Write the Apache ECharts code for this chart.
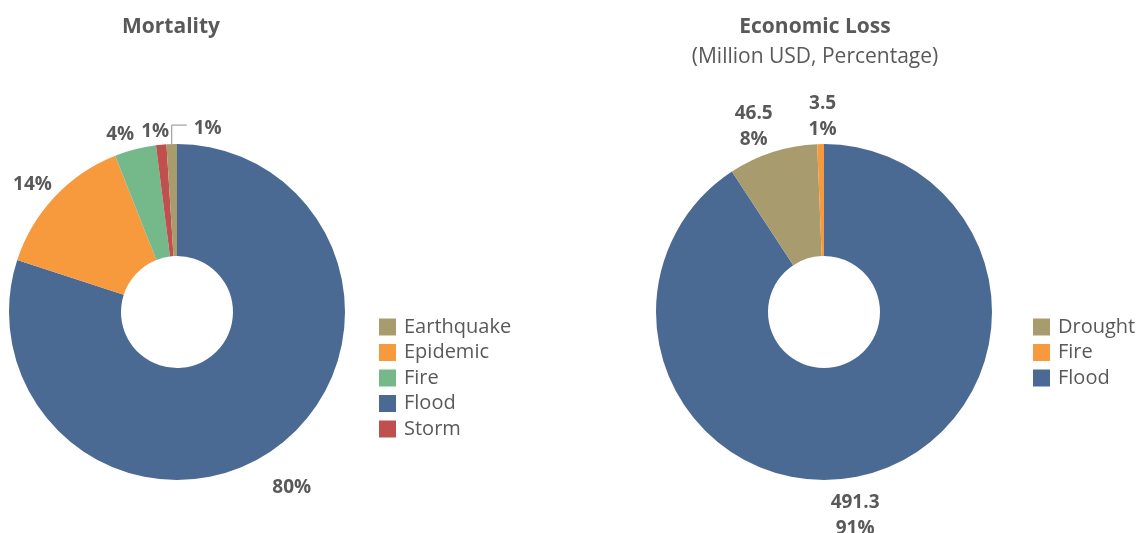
<!DOCTYPE html>
<html><head><meta charset="utf-8">
<script src="https://cdn.jsdelivr.net/npm/echarts@6/dist/echarts.min.js"></script>
<style>html,body{margin:0;padding:0;background:#fff}#c{width:1137px;height:533px}</style>
</head><body><div id="c"></div>
<script>
// Mortality (percent of deaths), clockwise from 12 o'clock
const mortCats = ['Flood', 'Epidemic', 'Fire', 'Storm', 'Earthquake'];
const mortVals = [80, 14, 4, 1, 1];
const mortColors = ['#4b6a93', '#f79a3e', '#75b98b', '#c0504d', '#a89b6e'];
const mortLegend = ['Earthquake', 'Epidemic', 'Fire', 'Flood', 'Storm'];

// Economic loss (million USD), clockwise from 12 o'clock
const ecoCats = ['Flood', 'Drought', 'Fire'];
const ecoVals = [491.3, 46.5, 3.5];
const ecoPct = ['91%', '8%', '1%'];
const ecoColors = ['#4b6a93', '#a89b6e', '#f79a3e'];
const ecoLegend = ['Drought', 'Fire', 'Flood'];

const FONT = '"Open Sans", "Noto Sans", sans-serif';
const TXT = '#595959';

// label offsets from the slice's outer-edge midpoint (placement only)
const mortLabelOff = [[16, 40], [-22, -12], [-15, -15], [-6, -13], [34, -15]];
const ecoLabelOff = [[-17, 43], [-19, -25], [2, -27]];

const mortData = mortCats.map((n, i) => ({
  name: n, value: mortVals[i], itemStyle: { color: mortColors[i] }
}));
const ecoData = ecoCats.map((n, i) => ({
  name: n, value: ecoVals[i], itemStyle: { color: ecoColors[i] }, pct: ecoPct[i]
}));

function legendData(names, cats, colors) {
  return names.map(n => ({ name: n, itemStyle: { color: colors[cats.indexOf(n)] } }));
}

function makeLayout(offs, leaderIdx) {
  return function (params) {
    const pts = params.labelLinePoints;
    const p0 = pts ? pts[0] : [params.labelRect.x, params.labelRect.y];
    const o = offs[params.dataIndex];
    const res = { x: p0[0] + o[0], y: p0[1] + o[1], align: 'center', verticalAlign: 'middle' };
    if (params.dataIndex === leaderIdx) {
      res.x = p0[0] + o[0] - 12;
      res.align = 'left';
      res.labelLinePoints = [[p0[0], p0[1]], [p0[0], p0[1] - 19], [p0[0] + 15, p0[1] - 19]];
    } else if (pts) {
      res.labelLinePoints = [[p0[0], p0[1]], [p0[0], p0[1]], [p0[0], p0[1]]];
    }
    return res;
  };
}

const chart = echarts.init(document.getElementById('c'), null, { renderer: 'canvas' });
chart.setOption({
  animation: false,
  textStyle: { fontFamily: FONT },
  title: [
    { text: 'Mortality', left: 166, top: 12, textAlign: 'center',
      textStyle: { fontFamily: FONT, fontSize: 21, fontWeight: 'bold', color: TXT } },
    { text: 'Economic Loss', subtext: '(Million USD, Percentage)', left: 810, top: 12, textAlign: 'center',
      itemGap: 9,
      textStyle: { fontFamily: FONT, fontSize: 21, fontWeight: 'bold', color: TXT },
      subtextStyle: { fontFamily: FONT, fontSize: 21, color: TXT } }
  ],
  legend: [
    { orient: 'vertical', left: 374, top: 312, itemWidth: 17, itemHeight: 17, itemGap: 5.5,
      icon: 'rect', data: legendData(mortLegend, mortCats, mortColors),
      textStyle: { fontFamily: FONT, fontSize: 20, color: TXT, padding: [0, 0, 0, 3] } },
    { orient: 'vertical', left: 1028, top: 312, itemWidth: 17, itemHeight: 17, itemGap: 5.5,
      icon: 'rect', data: legendData(ecoLegend, ecoCats, ecoColors),
      textStyle: { fontFamily: FONT, fontSize: 20, color: TXT, padding: [0, 0, 0, 3] } }
  ],
  series: [
    { type: 'pie', center: [177, 312], radius: [56, 168], startAngle: 90, clockwise: true,
      avoidLabelOverlap: false,
      label: { position: 'outside', formatter: '{c}%', fontFamily: FONT, fontSize: 19, fontWeight: 'bold', color: TXT },
      labelLine: { show: true, length: 10, length2: 5, lineStyle: { color: '#8c8c8c', width: 1 } },
      labelLayout: makeLayout(mortLabelOff, 4),
      data: mortData },
    { type: 'pie', center: [824, 312], radius: [56, 168], startAngle: 90, clockwise: true,
      avoidLabelOverlap: false,
      label: { position: 'outside', formatter: p => p.value + '\n' + p.data.pct, lineHeight: 26,
        fontFamily: FONT, fontSize: 19, fontWeight: 'bold', color: TXT, align: 'center' },
      labelLine: { show: true, length: 10, length2: 5, lineStyle: { opacity: 0 } },
      labelLayout: makeLayout(ecoLabelOff, -1),
      data: ecoData }
  ]
});
</script></body></html>
